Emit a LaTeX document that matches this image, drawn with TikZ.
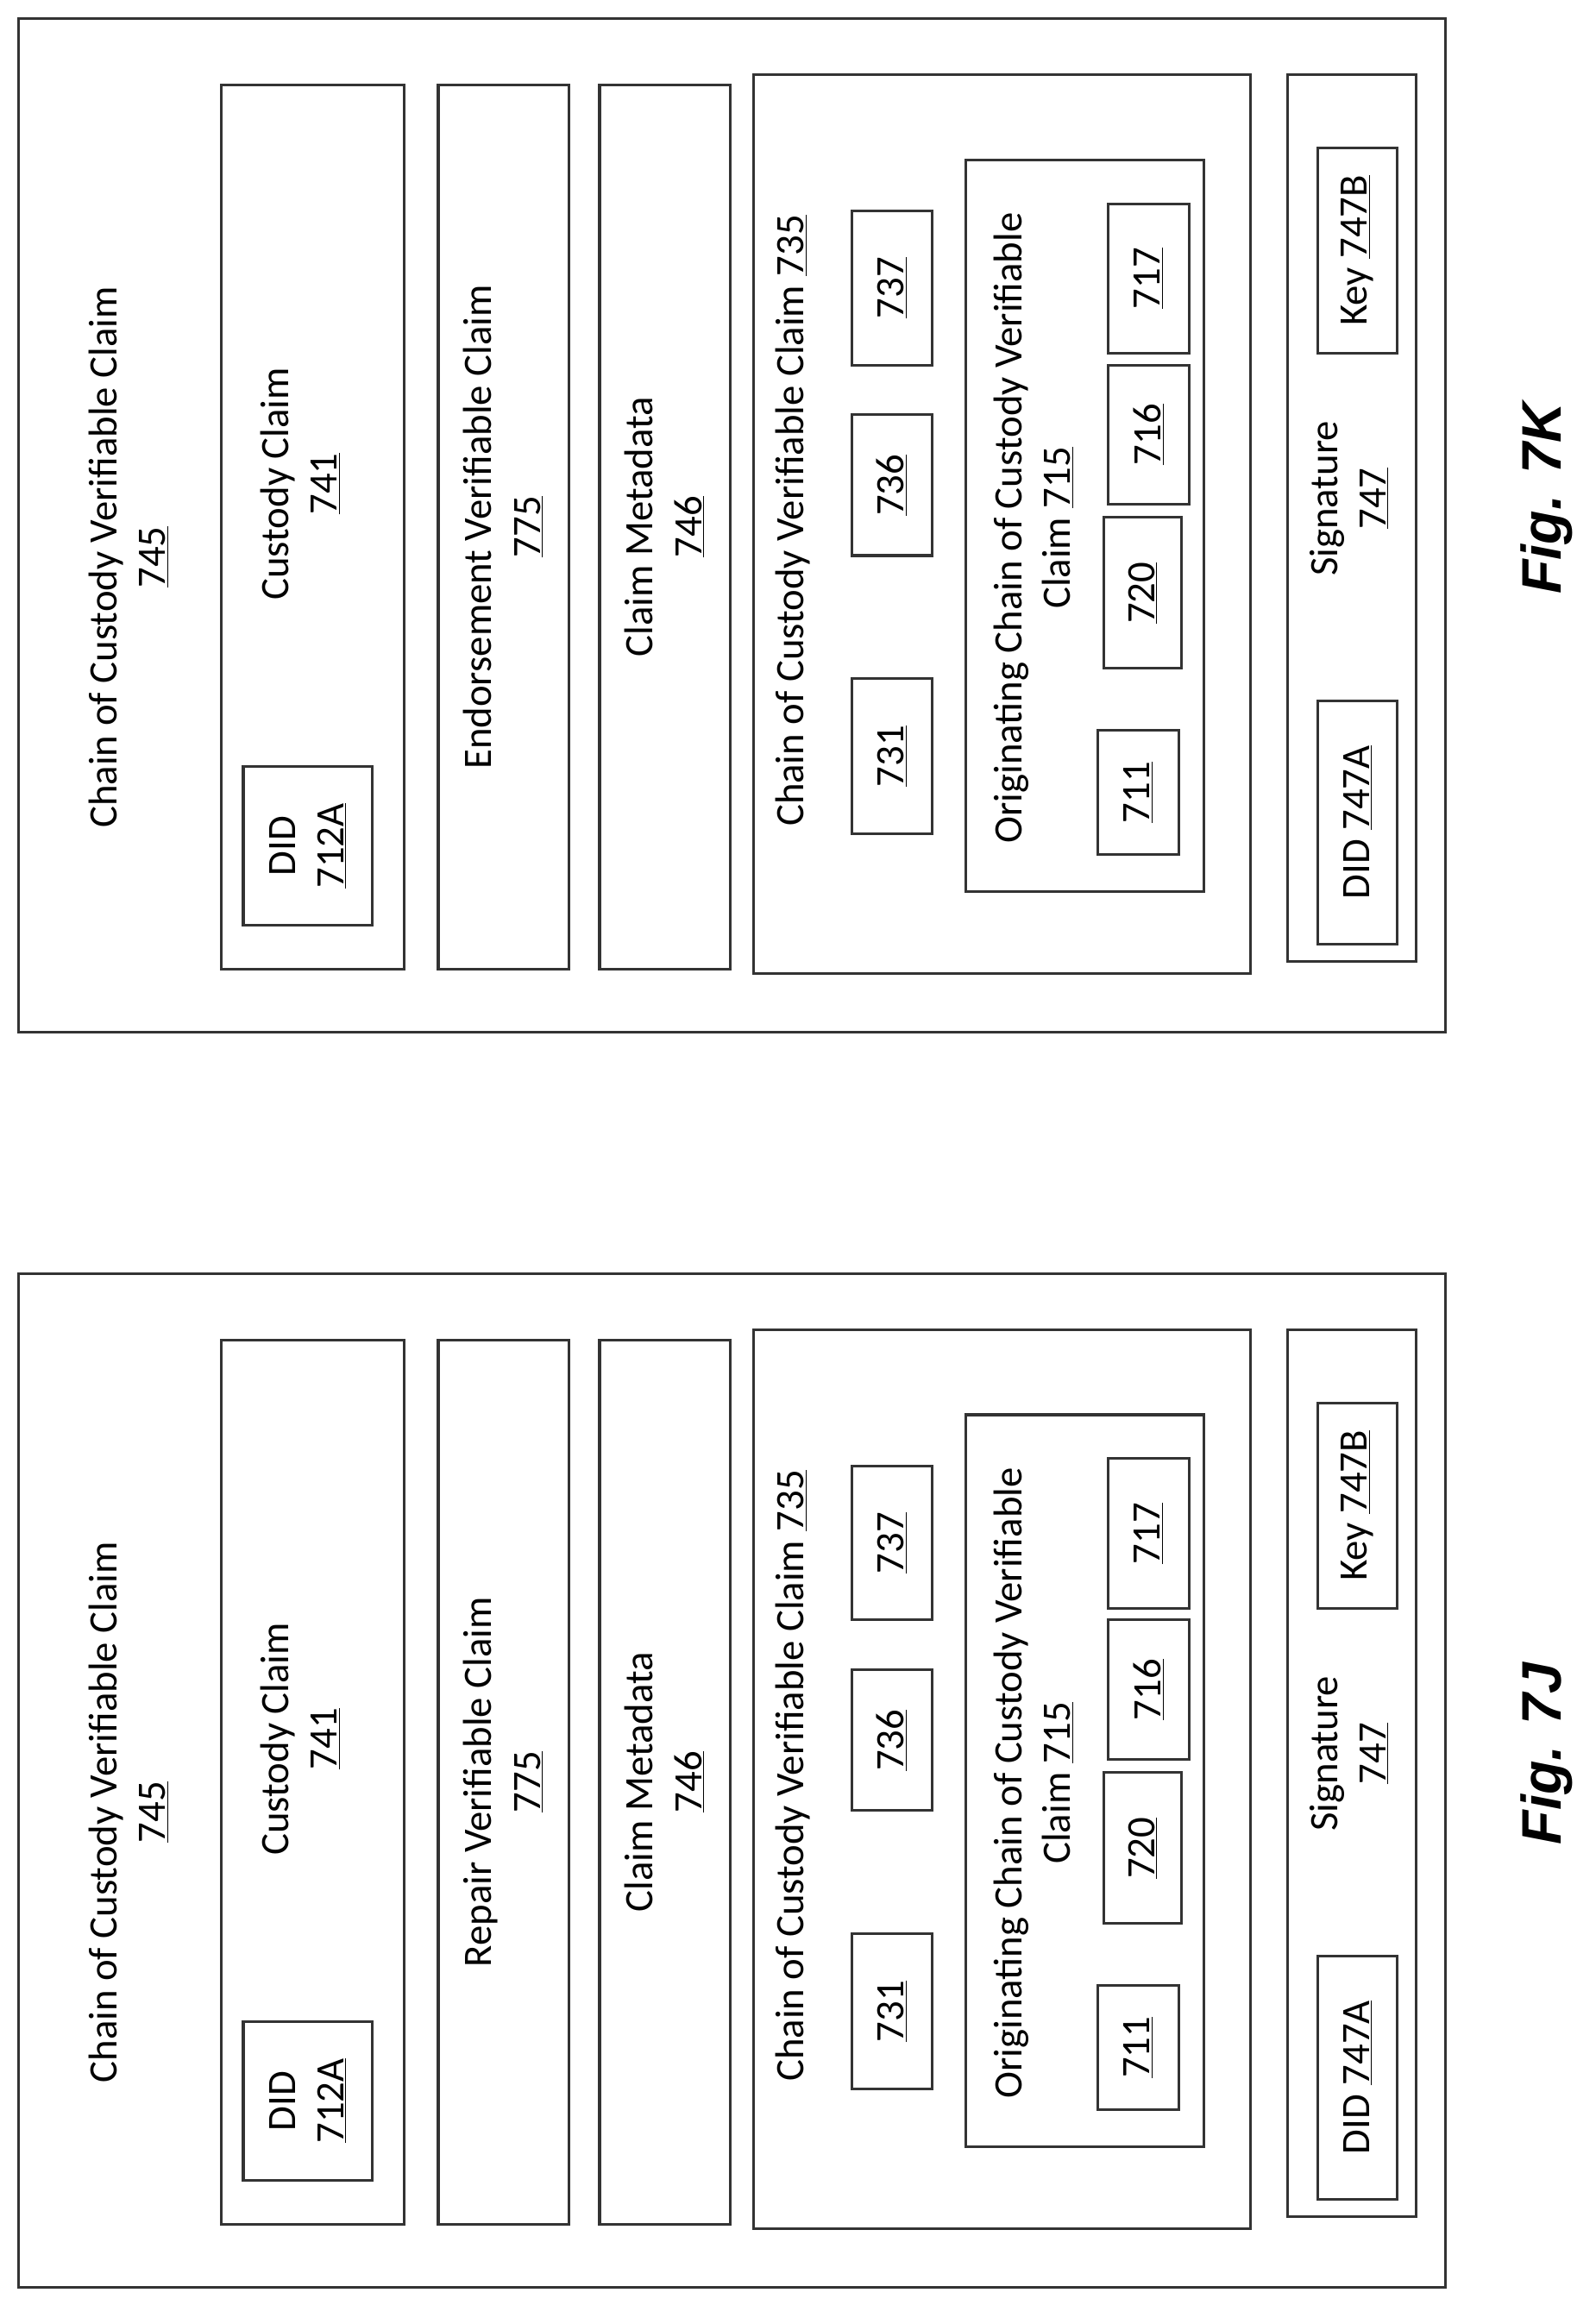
\documentclass[tikz,border=0pt]{standalone}
\usepackage{fontspec}
\setmainfont{Carlito}
\newfontfamily\figfont{Liberation Sans}
\newcommand\myu[1]{\underline{#1}}
\newcommand\bx[6][]{\node[box,anchor=north west,minimum width=#5pt-#3pt,minimum height=#6pt-#4pt,#1] (#2) at (#3,#4) {};}
\begin{document}
\begin{tikzpicture}[x=1pt,y=-1pt,
  box/.style={draw=black!80,line width=1.8pt,inner sep=0pt},
  t/.style={rotate=90,align=center,font=\fontsize{27.5}{33}\selectfont,inner sep=0pt}]
\useasboundingbox (0,0) rectangle (1088,1568);
\foreach \oy/\lab/\nm in {0/K/Endorsement,856/J/Repair}{
\begin{scope}[yshift=-\oy pt]
\bx{out\lab}{12}{12}{985}{703}
\node[t] (title\lab) at (88,380) {Chain of Custody Verifiable Claim\\\myu{745}};
\bx{cc\lab}{150}{57}{275}{660}
\bx{did\lab}{165}{522}{253}{630}
\node[t] at (did\lab) {DID\\\myu{712A}};
\node[t] (cct\lab) at (205,330) {Custody Claim\\\myu{741}};
\bx{end\lab}{298}{57}{387}{660}
\node[t] at (end\lab) {\nm{} Verifiable Claim\\\myu{775}};
\bx{meta\lab}{408}{57}{497}{660}
\node[t] at (meta\lab) {Claim Metadata\\\myu{746}};
\bx{ch\lab}{513}{50}{852}{663}
\node[t] (cht\lab) at (541,355) {Chain of Custody Verifiable Claim \myu{735}};
\bx{b731\lab}{580}{462}{635}{568}\node[t] at (b731\lab) {\myu{731}};
\bx{b736\lab}{580}{282}{635}{378}\node[t] at (b736\lab) {\myu{736}};
\bx{b737\lab}{580}{143}{635}{248}\node[t] at (b737\lab) {\myu{737}};
\bx{org\lab}{658}{108}{820}{607}
\node[t] (orgt\lab) at (705,360) {Originating Chain of Custody Verifiable\\Claim \myu{715}};
\bx{b711\lab}{748}{497}{803}{582}\node[t] at (b711\lab) {\myu{711}};
\bx{b720\lab}{752}{352}{805}{455}\node[t] at (b720\lab) {\myu{720}};
\bx{b716\lab}{755}{248}{810}{343}\node[t] at (b716\lab) {\myu{716}};
\bx{b717\lab}{755}{138}{810}{240}\node[t] at (b717\lab) {\myu{717}};
\bx{sig\lab}{877}{50}{965}{655}
\bx{d747\lab}{898}{477}{952}{643}\node[t] at (d747\lab) {DID \myu{747A}};
\bx{k747\lab}{898}{100}{952}{240}\node[t] at (k747\lab) {Key \myu{747B}};
\node[t] (sigt\lab) at (920,340) {Signature\\\myu{747}};
\node[t,font=\figfont\fontsize{38}{44}\selectfont\bfseries\itshape] (fig\lab) at (1055,340) {Fig. 7\lab};
\end{scope}}
\end{tikzpicture}
\end{document}
